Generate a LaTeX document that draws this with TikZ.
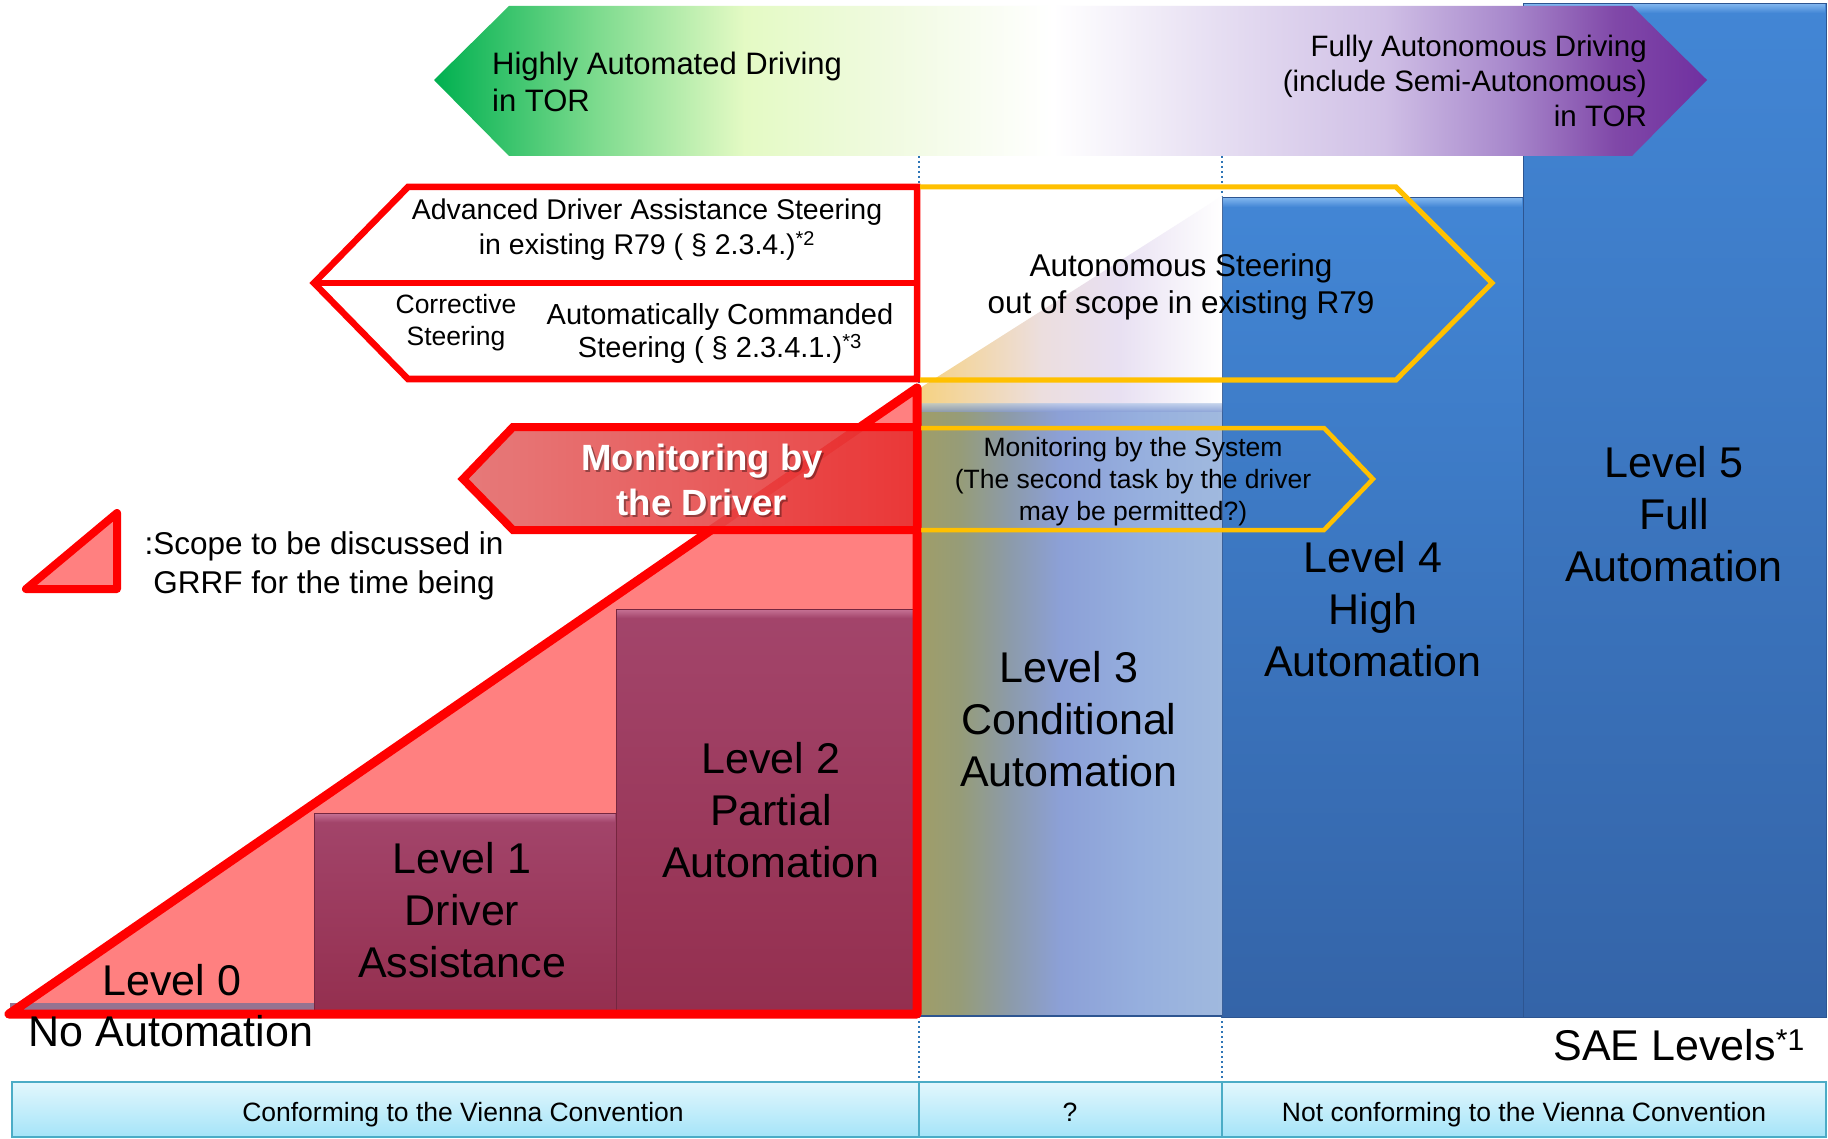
\documentclass[tikz,border=0pt]{standalone}
\usepackage{fontspec}
\setmainfont{Liberation Sans}
\definecolor{bn0}{RGB}{0,176,80}
\definecolor{bn1}{RGB}{125,219,142}
\definecolor{bn2}{RGB}{228,250,196}
\definecolor{bn3}{RGB}{240,250,224}
\definecolor{bn5}{RGB}{230,222,242}
\definecolor{bn6}{RGB}{208,192,230}
\definecolor{bn7}{RGB}{168,136,204}
\definecolor{bn8}{RGB}{128,72,168}
\definecolor{bn9}{RGB}{112,48,160}
\definecolor{l30}{RGB}{160,158,104}
\definecolor{l31}{RGB}{150,156,120}
\definecolor{l32}{RGB}{140,155,170}
\definecolor{l33}{RGB}{140,160,215}
\definecolor{l34}{RGB}{150,175,222}
\definecolor{l35}{RGB}{160,185,222}
\definecolor{ft0}{RGB}{246,210,130}
\definecolor{ft1}{RGB}{236,222,222}
\definecolor{ft2}{RGB}{232,224,242}
\definecolor{pinkfill}{RGB}{255,128,128}
\definecolor{plumTop}{RGB}{163,69,107}
\definecolor{plumBot}{RGB}{148,47,79}
\definecolor{plumHi}{RGB}{195,110,145}
\definecolor{blueTop}{RGB}{66,134,213}
\definecolor{blueBot}{RGB}{52,100,168}
\definecolor{blueHi}{RGB}{120,175,235}
\definecolor{blueEdge}{RGB}{45,85,145}
\definecolor{mdL}{RGB}{228,108,108}
\definecolor{mdR}{RGB}{232,48,48}
\definecolor{yline}{RGB}{255,192,0}
\definecolor{dotblue}{RGB}{46,117,182}
\definecolor{cellTop}{RGB}{226,247,253}
\definecolor{cellBot}{RGB}{165,228,248}
\definecolor{cellLine}{RGB}{75,172,198}
\definecolor{lvzero}{RGB}{150,115,145}
\definecolor{redline}{RGB}{255,0,0}
\pgfdeclarehorizontalshading{bannershade}{100bp}{color(0bp)=(bn0); color(25bp)=(bn0); color(31.4bp)=(bn1); color(37.2bp)=(bn2); color(42.8bp)=(bn3); color(49.3bp)=(white); color(55.8bp)=(bn5); color(62.3bp)=(bn6); color(67.2bp)=(bn7); color(71.4bp)=(bn8); color(75bp)=(bn9); color(100bp)=(bn9)}
\pgfdeclarehorizontalshading{lvthree}{100bp}{color(0bp)=(l30); color(25bp)=(l30); color(31.8bp)=(l31); color(40bp)=(l32); color(48.3bp)=(l33); color(61.5bp)=(l34); color(75bp)=(l35); color(100bp)=(l35)}
\pgfdeclarehorizontalshading{fadetri}{100bp}{color(0bp)=(ft0); color(25bp)=(ft0); color(45bp)=(ft1); color(58bp)=(ft2); color(75bp)=(white); color(100bp)=(white)}
\tikzset{
  lvltext/.style={font=\fontsize{43}{52}\selectfont, align=center, inner sep=0pt, text=black},
  midtext/.style={font=\fontsize{29}{35}\selectfont, align=center, inner sep=0pt},
  celltext/.style={font=\fontsize{26.5}{32}\selectfont, inner sep=0pt, anchor=base},
  bluebar/.style={top color=blueTop, bottom color=blueBot, draw=blueEdge, line width=1pt},
  plumbar/.style={top color=plumTop, bottom color=plumBot, draw=plumBot!80!black, line width=0.8pt},
  cellbox/.style={top color=cellTop, bottom color=cellBot, draw=cellLine, line width=1.8pt},
  redframe/.style={draw=redline, line width=6.5pt},
  yframe/.style={draw=yline, line width=5pt},
  sepline/.style={draw=dotblue, line width=2pt, dash pattern=on 2pt off 3pt}
}
\begin{document}
\begin{tikzpicture}[x=1pt,y=-1pt]
\useasboundingbox (0,0) rectangle (1828,1139);
\fill[white] (0,0) rectangle (1828,1139);

% separators
\coordinate (s1t) at (919,156); \coordinate (s1b) at (919,1082);
\coordinate (s2t) at (1222,156); \coordinate (s2b) at (1222,1082);
\draw[sepline] (s1t) -- (s1b);
\draw[sepline] (s2t) -- (s2b);

% bottom cells
\shadedraw[cellbox] (12,1082) rectangle (919,1137);
\shadedraw[cellbox] (919,1082) rectangle (1222,1137);
\shadedraw[cellbox] (1222,1082) rectangle (1826,1137);

% blue bars
\shadedraw[bluebar] (1523,4) rectangle (1826,1017);
\shade[top color=blueHi, bottom color=blueTop] (1524,5) rectangle (1825,13);
\shadedraw[bluebar] (1222,198) rectangle (1523,1017);
\shade[top color=blueHi, bottom color=blueTop] (1223,199) rectangle (1522,207);

% level 3 bar
\shade[shading=lvthree] (919,403) rectangle (1222,1016);
\shade[top color=white!70!l34, bottom color=l33, opacity=0.6] (919,403) rectangle (1222,411);
\draw[blueEdge, line width=1.5pt] (919,1016) -- (1222,1016);

% faded extension above level 3
\shade[shading=fadetri] (920,388) -- (1222,196) -- (1222,403) -- (920,403) -- cycle;

% top banner
\shade[shading=bannershade] (434,80) -- (509,6) -- (1632,6) -- (1707,80) -- (1632,156) -- (509,156) -- cycle;

% pink scope triangle
\fill[pinkfill] (9,1014) -- (917,388) -- (917,1014) -- cycle;

% level 0,1,2 bars
\fill[lvzero] (10,1003) rectangle (314,1013);
\shadedraw[plumbar] (314,813) rectangle (616,1013);
\shade[top color=plumHi, bottom color=plumTop] (315,814) rectangle (615,822);
\shadedraw[plumbar] (616,609) rectangle (917,1013);
\shade[top color=plumHi, bottom color=plumTop] (617,610) rectangle (916,618);

% red triangle outline
\draw[redline, line width=9pt, line join=round] (9,1014) -- (917,388) -- (917,1014) -- cycle;

% advanced driver assistance pentagon
\filldraw[fill=white, redframe] (314,283) -- (408,187) -- (917,187) -- (917,379) -- (408,379) -- cycle;
\draw[redframe] (314,283) -- (917,283);

% autonomous steering pentagon (yellow, open on the left)
\draw[yframe] (920,187) -- (1396,187) -- (1492,283) -- (1396,380) -- (920,380);

% monitoring by the system pentagon
\draw[yframe, line width=4.5pt] (920,428) -- (1324,428) -- (1373,479) -- (1324,530) -- (920,530);

% monitoring by the driver pentagon
\shade[left color=mdL, right color=mdR, fill opacity=0.9] (463,479) -- (513,427) -- (917,427) -- (917,530) -- (513,530) -- cycle;
\draw[redline, line width=8pt] (463,479) -- (513,427) -- (917,427) -- (917,530) -- (513,530) -- cycle;

% legend triangle
\filldraw[fill=pinkfill, draw=redline, line width=8pt, line join=round] (26,589) -- (117,513) -- (117,589) -- cycle;

% texts
\node[font=\fontsize{31}{37}\selectfont, align=left, inner sep=0pt, anchor=west] (had) at (492,82) {Highly Automated Driving\\in TOR};
\node[font=\fontsize{29.5}{35}\selectfont, align=right, inner sep=0pt, anchor=east] (fad) at (1647,81) {Fully Autonomous Driving\\(include Semi-Autonomous)\\in TOR};
\node[font=\fontsize{28.5}{35}\selectfont, align=center, inner sep=0pt] (adas) at (647,230) {Advanced Driver Assistance Steering\\in existing R79 ( § 2.3.4.)\textsuperscript{*2}};
\node[font=\fontsize{26.5}{32}\selectfont, align=center, inner sep=0pt] (cs) at (456,323) {Corrective\\Steering};
\node[font=\fontsize{29}{33}\selectfont, align=center, inner sep=0pt] (acs) at (720,334) {Automatically Commanded\\Steering ( § 2.3.4.1.)\textsuperscript{*3}};
\node[font=\fontsize{31.5}{37}\selectfont, align=center, inner sep=0pt] (aus) at (1181,287) {Autonomous Steering\\out of scope in existing R79};
\node[font=\fontsize{26.5}{32}\selectfont, align=center, inner sep=0pt] (mbs) at (1133,482) {Monitoring by the System\\(The second task by the driver\\may be permitted?)};
\node[font=\fontsize{36.5}{45}\selectfont\bfseries, align=center, inner sep=0pt, text=black, opacity=0.35] (mbdshadow) at (704,482) {Monitoring by\\the Driver};
\node[font=\fontsize{36.5}{45}\selectfont\bfseries, align=center, inner sep=0pt, text=white] (mbd) at (702,480) {Monitoring by\\the Driver};
\node[font=\fontsize{31.5}{39}\selectfont, align=center, inner sep=0pt] (legend) at (324,566) {:Scope to be discussed in\\GRRF for the time being};

\node[lvltext, anchor=base] (l0) at (172,995) {Level 0};
\node[lvltext, anchor=base] (l0b) at (171,1046) {No Automation};
\node[lvltext] (l1) at (462,910) {Level 1\\Driver\\Assistance};
\node[lvltext] (l2) at (771,810) {Level 2\\Partial\\Automation};
\node[lvltext] (l3) at (1069,719) {Level 3\\Conditional\\Automation};
\node[lvltext] (l4) at (1373,609) {Level 4\\High\\Automation};
\node[lvltext] (l5) at (1674,514) {Level 5\\Full\\Automation};
\node[lvltext, anchor=base east] (sae) at (1805,1060) {SAE Levels\textsuperscript{*1}};

\node[celltext] (c1) at (463,1121) {Conforming to the Vienna Convention};
\node[celltext] (c2) at (1070,1121) {?};
\node[celltext] (c3) at (1524,1121) {Not conforming to the Vienna Convention};
\end{tikzpicture}
\end{document}
